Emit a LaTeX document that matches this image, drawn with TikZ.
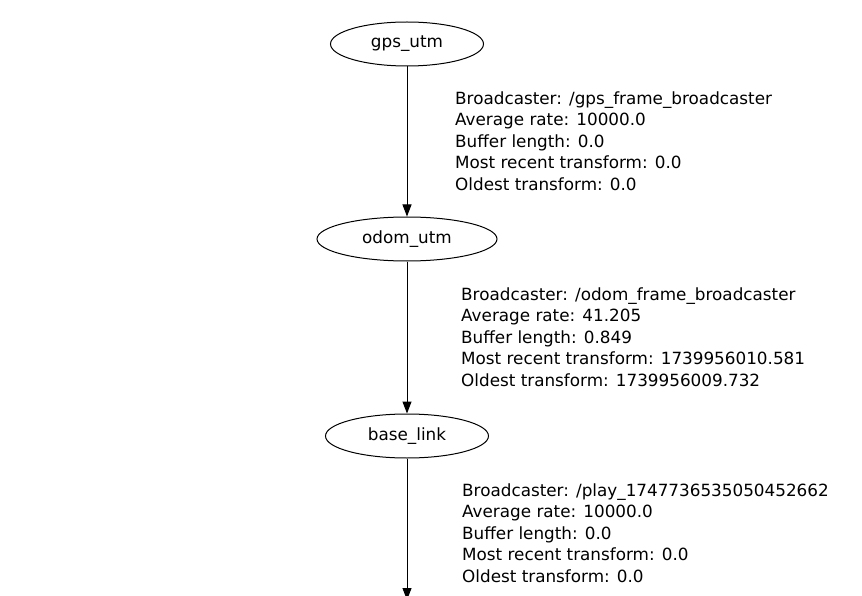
\documentclass[tikz,border=0pt]{standalone}
\usepackage{fontspec}
\setmainfont{DejaVu Sans}
\usepackage{tikz}
\usetikzlibrary{shapes, arrows.meta, positioning}

\begin{document}
\begin{tikzpicture}
  [
    x=1pt, y=-1pt,
    Frame/.style={ellipse, draw=black, line width=1pt, inner sep=0pt, minimum height=44pt, font=\fontsize{16.8}{20}\selectfont},
    Info/.style={anchor=west, align=left, inner sep=0pt, font=\fontsize{16.8}{21.5}\selectfont},
    Link/.style={-{Triangle[length=12pt, width=9pt]}, draw, line width=1pt}
  ]
  \useasboundingbox (0,0) rectangle (862,596);
  \clip (0,0) rectangle (862,596);
  % Nodes
  \node[Frame, minimum width=153pt] (gps) at (407, 44) {gps\_utm};
  \node[Frame, minimum width=180pt] (odom) at (407, 239) {odom\_utm};
  \node[Frame, minimum width=163pt] (base) at (407, 436) {base\_link};
  \coordinate (below) at (407, 600);
  % Labels
  \node[Info] (gpsinfo) at (455, 141) {Broadcaster: /gps\_frame\_broadcaster\\Average rate: 10000.0\\Buffer length: 0.0\\Most recent transform: 0.0\\Oldest transform: 0.0};
  \node[Info] (odominfo) at (461, 337) {Broadcaster: /odom\_frame\_broadcaster\\Average rate: 41.205\\Buffer length: 0.849\\Most recent transform: 1739956010.581\\Oldest transform: 1739956009.732};
  \node[Info] (baseinfo) at (462, 533) {Broadcaster: /play\_1747736535050452662\\Average rate: 10000.0\\Buffer length: 0.0\\Most recent transform: 0.0\\Oldest transform: 0.0};
  % Lines
  \path [Link] (gps) -- (odom);
  \path [Link] (odom) -- (base);
  \path [Link] (base) -- (below);
\end{tikzpicture}
\end{document}
